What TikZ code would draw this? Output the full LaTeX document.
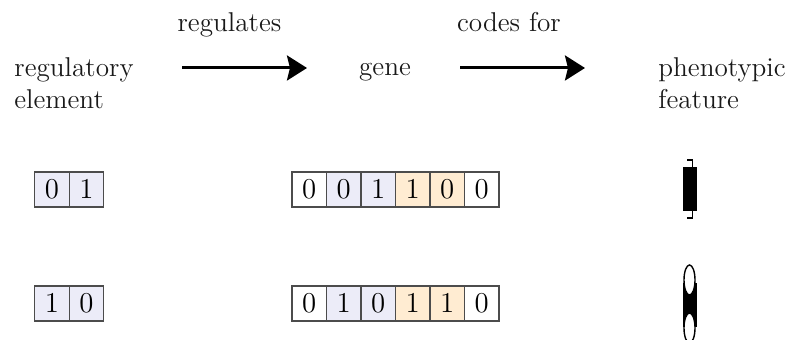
\documentclass[tikz,border=0pt]{standalone}
\usetikzlibrary{arrows.meta}

\definecolor{regfill}{RGB}{236,236,248}
\definecolor{codefill}{RGB}{255,236,210}

\tikzset{
	cell/.style={draw=black!70, line width=0.65pt, minimum width=17.25pt, minimum height=17.5pt,
		inner sep=0pt, font=\fontsize{14.5}{16}\selectfont},
	word/.style={inner sep=0pt, text=black!90, font=\fontsize{13.6}{16}\selectfont},
	link/.style={line width=1.5pt, -{Stealth[length=10pt,width=12.5pt,inset=1.5pt]}},
}

\begin{document}
\begin{tikzpicture}[x=0.5pt,y=-0.5pt]
	\useasboundingbox (0,0) rectangle (793,340);

	% headings and arrows
	\node[word, anchor=north west, align=left] (reg) at (14,57) {regulatory\\element};
	\node[word, anchor=base] (gene) at (385,76) {gene};
	\node[word, anchor=north west, align=left] (phen) at (658,57) {phenotypic\\feature};
	\node[word, anchor=base] (regulates) at (229.5,32) {regulates};
	\node[word, anchor=base] (codes) at (509,32) {codes for};
	\coordinate (r-start) at (182,68);
	\coordinate (r-end) at (307,68);
	\coordinate (c-start) at (460,68);
	\coordinate (c-end) at (585,68);
	\draw[link] (r-start) -- (r-end);
	\draw[link] (c-start) -- (c-end);

	% regulatory element bits
	\node[cell, fill=regfill] (ra1) at (52,189.5) {$0$};
	\node[cell, fill=regfill] (ra2) at (86.5,189.5) {$1$};
	\node[cell, fill=regfill] (rb1) at (52,303.5) {$1$};
	\node[cell, fill=regfill] (rb2) at (86.5,303.5) {$0$};

	% gene bits
	\foreach \d/\f [count=\i] in {0/white,0/regfill,1/regfill,1/codefill,0/codefill,0/white}
		\node[cell, fill=\f] (ga\i) at (274.75+34.5*\i,189.5) {$\d$};
	\foreach \d/\f [count=\i] in {0/white,1/regfill,0/regfill,1/codefill,1/codefill,0/white}
		\node[cell, fill=\f] (gb\i) at (274.75+34.5*\i,303.5) {$\d$};

	% phenotype one: solid bar
	\fill (683,167) rectangle (697,211);
	\draw[line width=0.8pt] (687,160) -- (692.5,160) -- (692.5,167);
	\draw[line width=0.8pt] (692.5,211) -- (692.5,218) -- (687,218);

	% phenotype two: bar pinched by two ellipses
	\fill (683,283) rectangle (697,327);
	\draw[line width=0.7pt, fill=white] (689.5,280) ellipse [x radius=5.5, y radius=15];
	\draw[line width=0.7pt, fill=white] (689.5,328) ellipse [x radius=5.5, y radius=15];
\end{tikzpicture}
\end{document}
